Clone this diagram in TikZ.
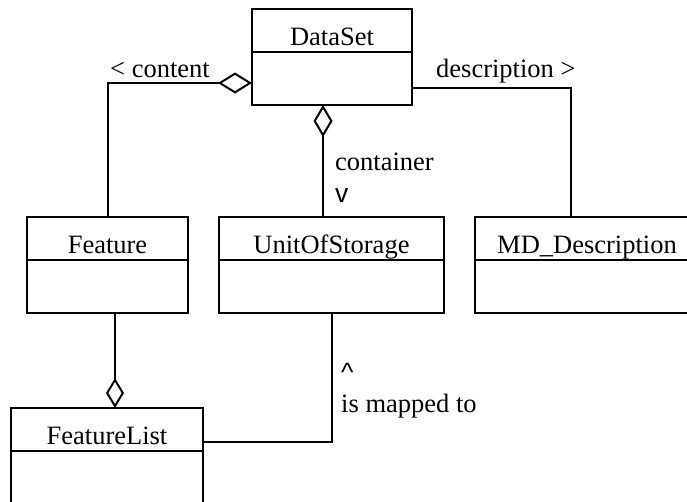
\documentclass[tikz,border=0pt]{standalone}
\usepackage{fontspec}
\setmainfont{Liberation Serif}
\newfontfamily\signfont{Liberation Sans}
\usetikzlibrary{arrows.meta,positioning}

\begin{document}
\begin{tikzpicture}[x=1pt,y=-1pt]
\tikzstyle{umlclass}=[draw, line width=2pt, shape=rectangle, anchor=north west, inner sep=0pt, outer sep=0pt, minimum height=96pt]
\tikzstyle{classname}=[anchor=base, inner sep=0pt, font=\fontsize{26.5}{30}\selectfont]
\tikzstyle{rolelabel}=[anchor=base west, inner sep=0pt, font=\fontsize{26.5}{30}\selectfont]
\tikzstyle{signlabel}=[anchor=base west, inner sep=0pt, font=\signfont\fontsize{26.5}{30}\selectfont]
\tikzstyle{assoc}=[line width=2pt]
\tikzstyle{aggrside}=[assoc, {Diamond[open, length=34pt, width=21pt]}-]
\tikzstyle{aggrstart}=[assoc, {Diamond[open, length=32pt, width=19pt]}-]
\tikzstyle{aggrend}=[assoc, -{Diamond[open, length=30pt, width=18pt]}]
\clip (0,0) rectangle (687,501);

% classes
\node[umlclass, minimum width=160pt] (dataset) at (252,9) {};
\node[umlclass, minimum width=161pt] (feature) at (27,217) {};
\node[umlclass, minimum width=225pt] (unit) at (219,217) {};
\node[umlclass, minimum width=224pt] (md) at (475,217) {};
\node[umlclass, minimum width=192pt, minimum height=130pt] (flist) at (11,408) {};

\node[classname] (dataset-name) at ([yshift=-36pt]dataset.north) {DataSet};
\node[classname] (feature-name) at ([yshift=-36pt]feature.north) {Feature};
\node[classname] (unit-name) at ([yshift=-36pt]unit.north) {UnitOfStorage};
\node[classname] (md-name) at ([yshift=-36pt]md.north) {MD\_Description};
\node[classname] (flist-name) at ([yshift=-36pt]flist.north) {FeatureList};

\draw[assoc] ([yshift=-43pt]dataset.north west) -- ([yshift=-43pt]dataset.north east);
\draw[assoc] ([yshift=-43pt]feature.north west) -- ([yshift=-43pt]feature.north east);
\draw[assoc] ([yshift=-43pt]unit.north west) -- ([yshift=-43pt]unit.north east);
\draw[assoc] ([yshift=-43pt]md.north west) -- ([yshift=-43pt]md.north east);
\draw[assoc] ([yshift=-43pt]flist.north west) -- ([yshift=-43pt]flist.north east);

% associations
\draw[aggrside] ([yshift=22pt]dataset.south west) -| (feature.north);
\draw[assoc] ([yshift=17pt]dataset.south east) -| ([xshift=-16pt]md.north);
\draw[aggrstart] ([xshift=-9pt]dataset.south) -- ([xshift=-9pt]dataset.south |- unit.north);
\draw[aggrend] ([xshift=7.5pt]feature.south) -- ([xshift=7.5pt]feature.south |- flist.north);
\draw[assoc] ([yshift=-34pt]flist.north east) -| (unit.south);

% role names
\node[rolelabel] (content) at (110,77) {< content};
\node[rolelabel] (description) at (436,77) {description >};
\node[rolelabel] (container) at (335,170) {container};
\node[signlabel] (container-dir) at (335,202) {v};
\node[signlabel] (mapped-dir) at (341,381) {\textasciicircum};
\node[rolelabel] (mapped) at (341,412) {is mapped to};

\end{tikzpicture}
\end{document}
